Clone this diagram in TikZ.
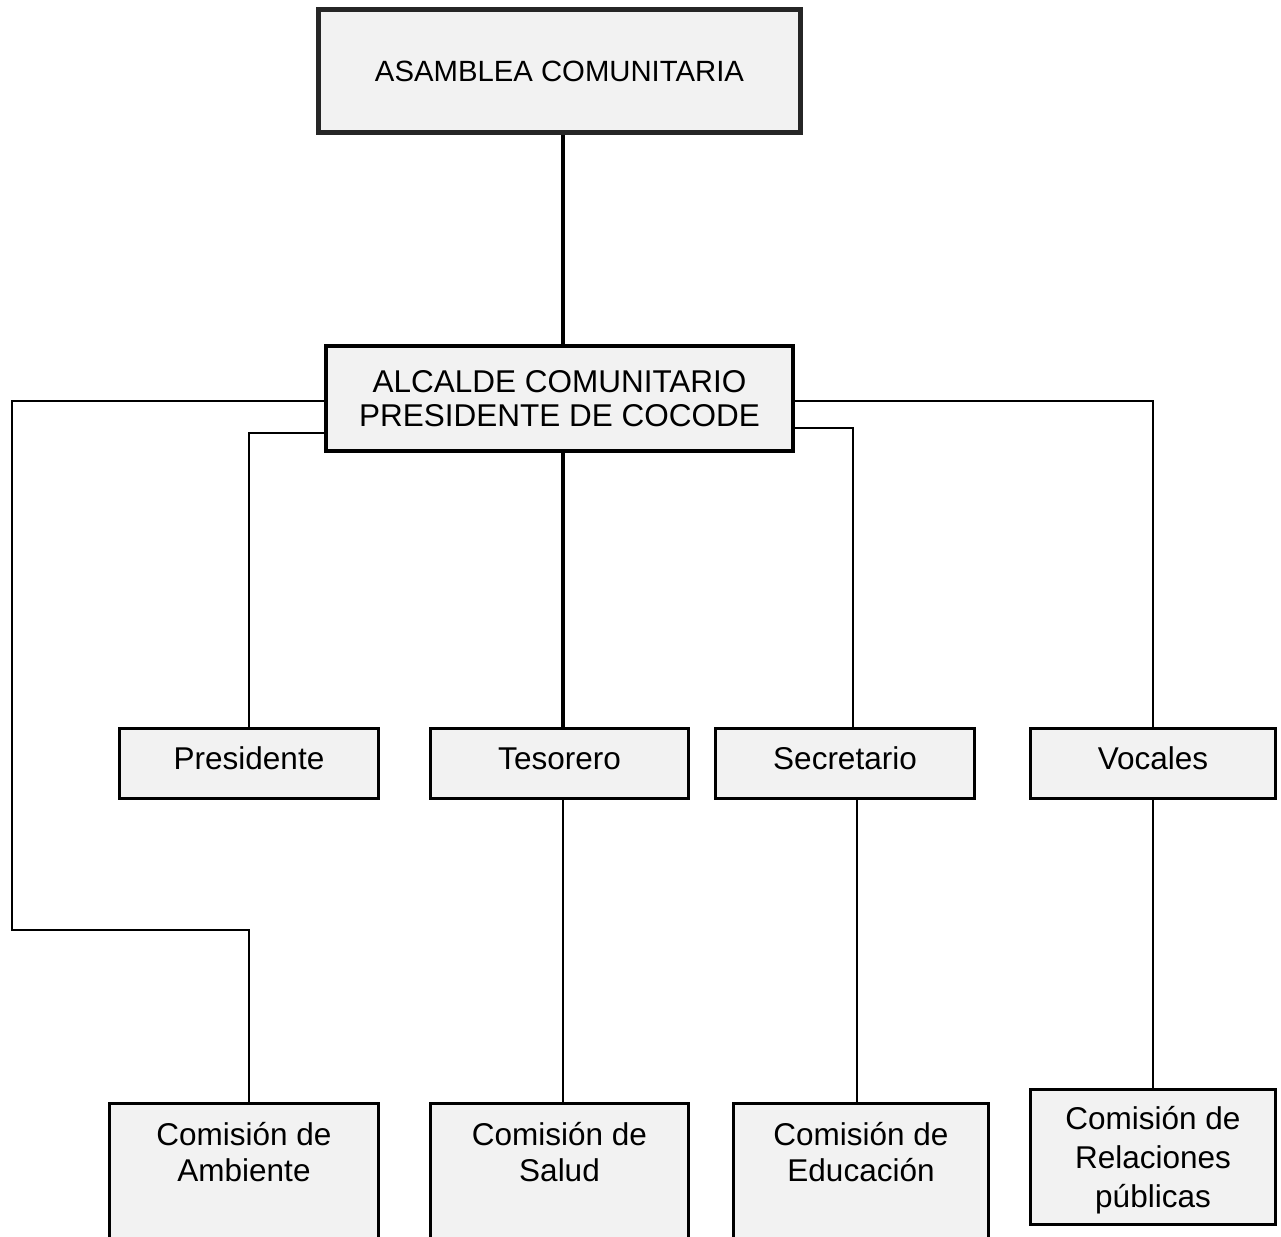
\documentclass[tikz,border=0pt]{standalone}
\usepackage{fontspec}
\setmainfont{Liberation Sans}
\usepackage{tikz}
\definecolor{cajagris}{HTML}{F2F2F2}
\tikzstyle{cargo}=[draw, fill=cajagris, line width=3pt, align=center, inner xsep=4pt, font=\fontsize{31.5}{36}\selectfont]
\tikzstyle{fila}=[cargo, minimum height=70pt, text height=23pt, text depth=12pt, inner ysep=0pt]
\tikzstyle{comision}=[cargo, anchor=north, text height=58.5pt, text depth=150pt, inner ysep=20pt]
\tikzstyle{grueso}=[line width=4pt]
\tikzstyle{fino}=[line width=2pt]
\newcommand{\cargo}{\node[fila]}
\newcommand{\comision}{\node[comision]}

\begin{document}
\begin{tikzpicture}[x=1pt,y=-1pt]
\useasboundingbox (0,0) rectangle (1281,1236);
\clip (0,0) rectangle (1281,1236);
\node[cargo, draw=black!85, line width=5pt, minimum width=482pt, minimum height=123pt, font=\fontsize{29.3}{34}\selectfont] (asamblea) at (559.5,71) {ASAMBLEA COMUNITARIA};
\node[cargo, line width=4pt, minimum width=467pt, minimum height=105pt, font=\fontsize{31.5}{34}\selectfont] (alcalde) at (559.5,398.5) {ALCALDE COMUNITARIO\\PRESIDENTE DE COCODE};
\cargo[minimum width=259pt] (presidente) at (249,763.5) {Presidente};
\cargo[minimum width=258pt] (tesorero) at (559.5,763.5) {Tesorero};
\cargo[minimum width=259pt] (secretario) at (845,763.5) {Secretario};
\cargo[minimum width=245pt] (vocales) at (1153,763.5) {Vocales};
\comision[minimum width=269pt] (ambiente) at (244,1101.5) {Comisión de\\Ambiente};
\comision[minimum width=258pt] (salud) at (559.5,1101.5) {Comisión de\\Salud};
\comision[minimum width=255pt] (educacion) at (861,1101.5) {Comisión de\\Educación};
\node[cargo, minimum width=245pt, minimum height=135pt, text depth=0pt, font=\fontsize{31.5}{39}\selectfont] (relaciones) at (1153,1156.5) {Comisión de\\Relaciones\\públicas};
\coordinate (codo) at (12,930);
\draw[grueso] ([xshift=3pt]asamblea.south) -- ([xshift=3pt]alcalde.north);
\draw[grueso] ([xshift=3pt]alcalde.south) -- ([xshift=3pt]tesorero.north);
\draw[fino] ([yshift=-2.5pt]alcalde.west) -| (codo) -| (ambiente.north -| presidente.north);
\draw[fino] ([yshift=-34.5pt]alcalde.west) -| (presidente.north);
\draw[fino] ([yshift=-2.5pt]alcalde.east) -| (vocales.north);
\draw[fino] ([yshift=-29.5pt]alcalde.east) -| ([xshift=8pt]secretario.north);
\draw[fino] ([xshift=3pt]tesorero.south) -- ([xshift=3pt]salud.north);
\draw[fino] ([xshift=12pt]secretario.south) -- ([xshift=-4pt]educacion.north);
\draw[fino] (vocales) -- (relaciones);
\end{tikzpicture}
\end{document}
